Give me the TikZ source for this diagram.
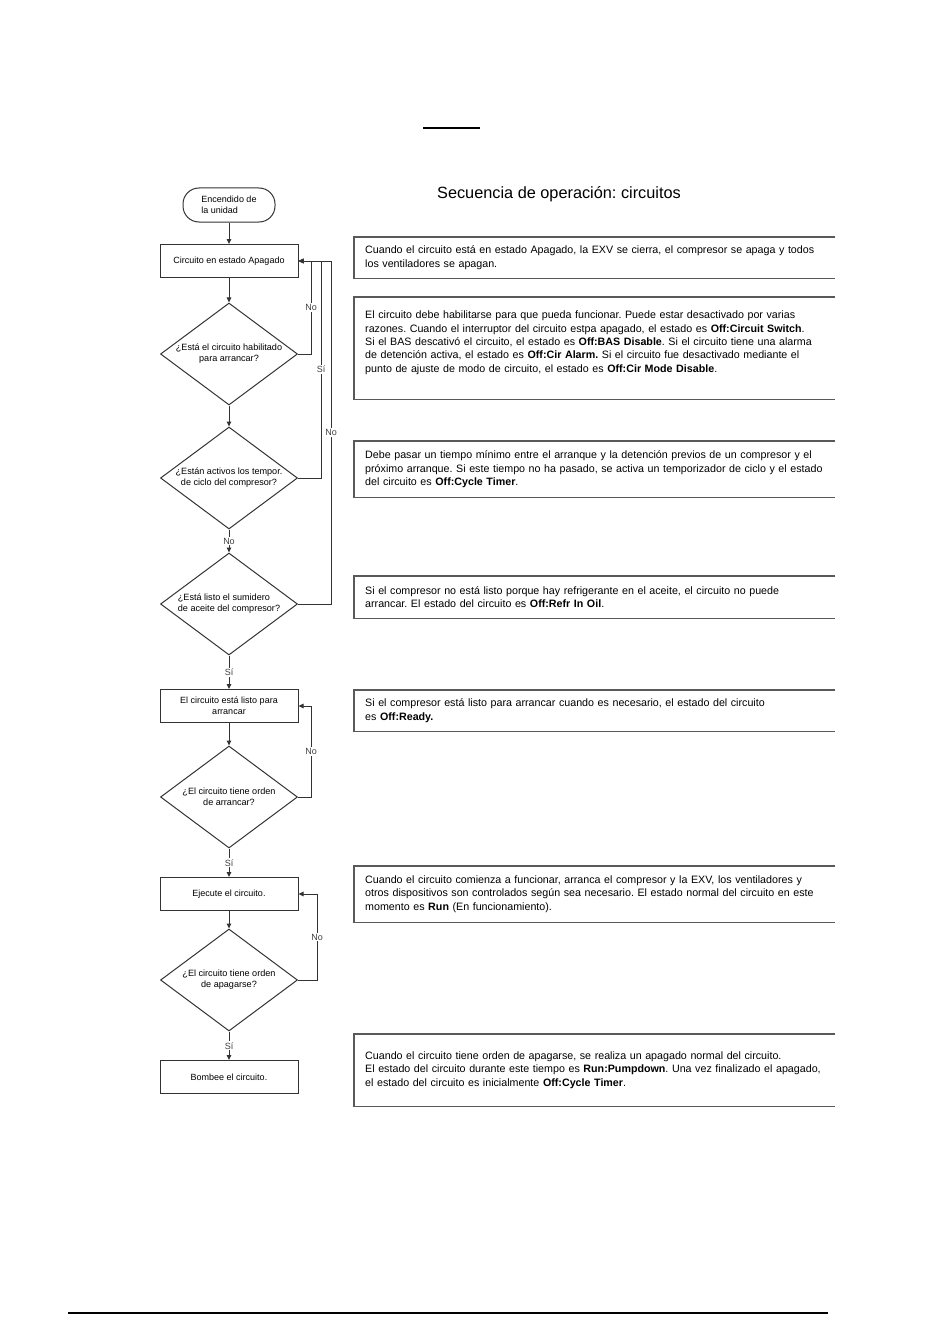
\documentclass[tikz,border=0pt]{standalone}
\usepackage{fontspec}
\setmainfont{Liberation Sans}
\usetikzlibrary{shapes.geometric,arrows.meta}
\frenchspacing
\hyphenpenalty=10000

\begin{document}
\begin{tikzpicture}[
  x=1pt, y=-1pt,
  term/.style={rectangle, draw=black!80, line width=1pt, rounded corners=16pt, minimum width=92pt, minimum height=34pt, align=left, font=\fontsize{9}{11}\selectfont},
  proc/.style={rectangle, draw=black!80, line width=1pt, minimum width=138pt, minimum height=33pt, align=center, font=\fontsize{9}{11}\selectfont},
  decision/.style={diamond, draw=black!80, line width=1pt, minimum width=137pt, minimum height=102pt, inner sep=0pt},
  qtext/.style={font=\fontsize{9.1}{11}\selectfont, align=center},
  note/.style={anchor=north west, inner xsep=11pt, text width=459pt, align=left, font=\fontsize{10.7}{13.4}\selectfont},
  frame/.style={draw=black!65, line width=1.6pt},
  arrow/.style={-{Triangle[length=5pt,width=4.5pt]}, line width=1pt, black!80},
  tag/.style={fill=white, inner sep=1pt, font=\fontsize{9}{11}\selectfont, text=black!75},
]
\useasboundingbox (0,0) rectangle (950,1343);

% === Page rules and title ===
\draw[line width=1.8pt] (423,128) -- (480,128);
\draw[line width=1.8pt] (68,1313) -- (828,1313);
\node[font=\fontsize{16.3}{19}\selectfont] (title) at (559,194) {Secuencia de operación: circuitos};

% === Flow ===
\node[term] (start) at (229,205) {Encendido de\\la unidad};
\node[proc] (off) at (229,261) {Circuito en estado Apagado};
\node[decision, label={[qtext]center:¿Está el circuito habilitado\\para arrancar?}] (d1) at (229,354) {};
\node[decision, label={[qtext]center:¿Están activos los tempor.\\de ciclo del compresor?}] (d2) at (229,478) {};
\node[decision, label={[qtext, align=left]center:¿Está listo el sumidero\\de aceite del compresor?}] (d3) at (229,604) {};
\node[proc] (ready) at (229,706) {El circuito está listo para\\arrancar};
\node[decision, label={[qtext]center:¿El circuito tiene orden\\de arrancar?}] (d4) at (229,797) {};
\node[proc] (run) at (229,894) {Ejecute el circuito.};
\node[decision, label={[qtext]center:¿El circuito tiene orden\\de apagarse?}] (d5) at (229,980) {};
\node[proc] (pump) at (229,1077) {Bombee el circuito.};

\draw[arrow] (start) -- (off);
\draw[arrow] (off) -- (d1);
\draw[arrow] (d1) -- (d2);
\draw[arrow] (d2) -- node[tag]{No} (d3);
\draw[arrow] (d3) -- node[tag]{Sí} (ready);
\draw[arrow] (ready) -- (d4);
\draw[arrow] (d4) -- node[tag]{Sí} (run);
\draw[arrow] (run) -- (d5);
\draw[arrow] (d5) -- node[tag]{Sí} (pump);

% loops back
\draw[arrow] (d1.east) -- ++(13,0) |- node[tag, pos=0.25]{No} (off.east);
\draw[arrow] (d2.east) -- ++(23,0) |- node[tag, pos=0.25]{Sí} (off.east);
\draw[arrow] (d3.east) -- ++(33,0) |- node[tag, pos=0.25]{No} (off.east);
\draw[arrow] (d4.east) -- ++(13,0) |- node[tag, pos=0.25]{No} (ready.east);
\draw[arrow] (d5.east) -- ++(19,0) |- node[tag, pos=0.25]{No} (run.east);

% === Notes ===
\node[note, minimum height=41pt] (t1) at (354,237) {Cuando el circuito está en estado Apagado, la EXV se cierra, el compresor se apaga y todos\\los ventiladores se apagan.};
\node[note, minimum height=102pt] (t2) at (354,297) {El circuito debe habilitarse para que pueda funcionar. Puede estar desactivado por varias\\razones. Cuando el interruptor del circuito estpa apagado, el estado es \textbf{Off:Circuit Switch}.\\Si el BAS descativó el circuito, el estado es \textbf{Off:BAS Disable}. Si el circuito tiene una alarma\\de detención activa, el estado es \textbf{Off:Cir Alarm.} Si el circuito fue desactivado mediante el\\punto de ajuste de modo de circuito, el estado es \textbf{Off:Cir Mode Disable}.\rule[-13pt]{0pt}{1pt}};
\node[note, minimum height=56pt] (t3) at (354,441) {Debe pasar un tiempo mínimo entre el arranque y la detención previos de un compresor y el\\próximo arranque. Si este tiempo no ha pasado, se activa un temporizador de ciclo y el estado\\del circuito es \textbf{Off:Cycle Timer}.};
\node[note, minimum height=42pt] (t4) at (354,576) {Si el compresor no está listo porque hay refrigerante en el aceite, el circuito no puede\\arrancar. El estado del circuito es \textbf{Off:Refr In Oil}.};
\node[note, minimum height=41pt] (t5) at (354,690) {Si el compresor está listo para arrancar cuando es necesario, el estado del circuito\\es \textbf{Off:Ready.}};
\node[note, minimum height=56pt] (t6) at (354,866) {Cuando el circuito comienza a funcionar, arranca el compresor y la EXV, los ventiladores y\\otros dispositivos son controlados según sea necesario. El estado normal del circuito en este\\momento es \textbf{Run} (En funcionamiento).};
\node[note, minimum height=72pt] (t7) at (354,1034) {Cuando el circuito tiene orden de apagarse, se realiza un apagado normal del circuito.\\El estado del circuito durante este tiempo es \textbf{Run:Pumpdown}. Una vez finalizado el apagado,\\el estado del circuito es inicialmente \textbf{Off:Cycle Timer}.};

\foreach \n in {t1,t2,t3,t4,t5,t6,t7}
  \draw[frame] (\n.north east) -| (\n.south west) -- (\n.south east);

\end{tikzpicture}
\end{document}
